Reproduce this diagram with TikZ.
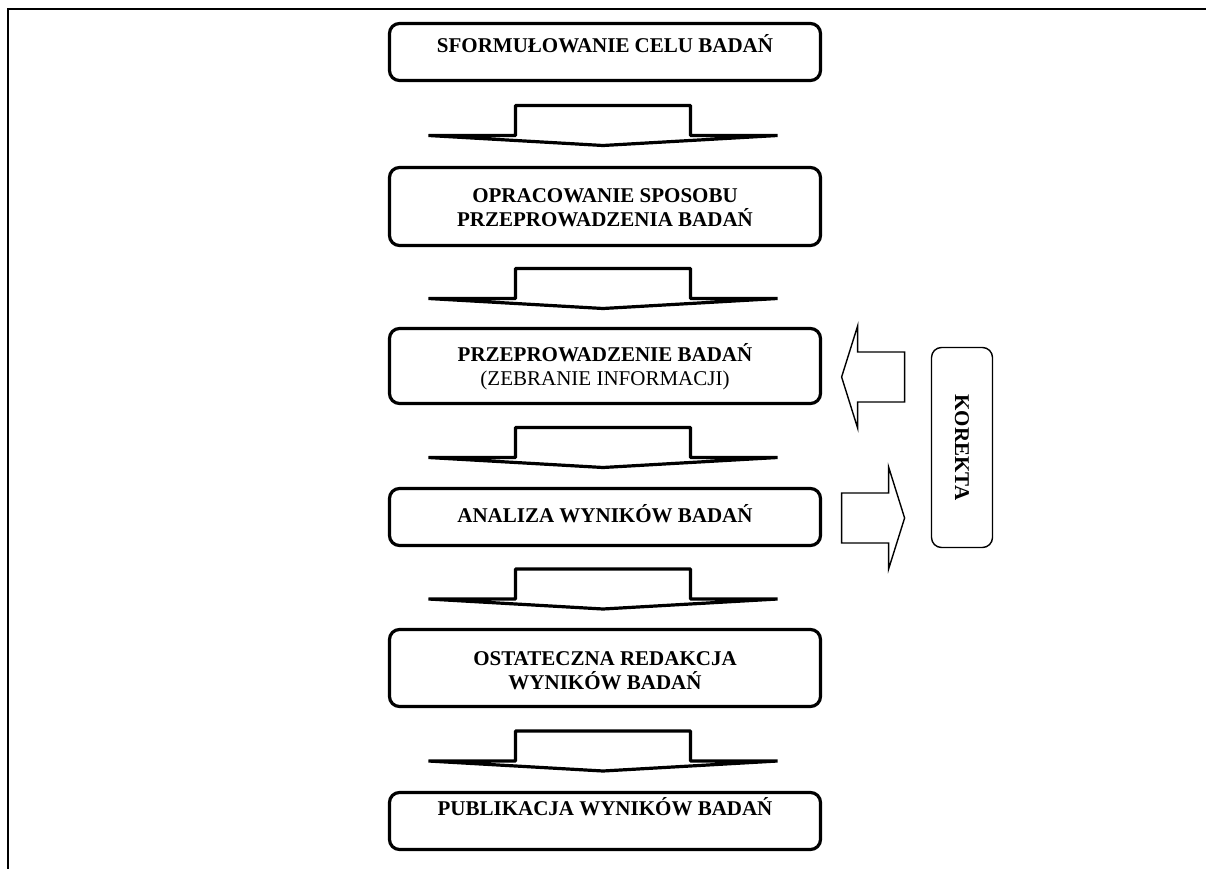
\documentclass[tikz,border=0pt]{standalone}
\usepackage{fontspec}
\setmainfont{Liberation Serif}
\usetikzlibrary{calc}
\tikzset{
  mainbox/.style={draw, line width=3.2pt, rounded corners=10pt, fill=white, minimum width=431pt, inner sep=0pt},
  boxtext/.style={font=\fontsize{21}{24}\selectfont\bfseries, align=center, inner sep=0pt, anchor=base},
  korbox/.style={draw, line width=1.4pt, rounded corners=10pt, rotate=-90, minimum width=200pt, minimum height=61pt, inner sep=0pt, font=\fontsize{21}{24}\selectfont\bfseries},
  flowarrow/.pic={\draw[line width=3.2pt, line join=bevel, fill=white] (-87.5,-18.5) -- (87.5,-18.5) -- (87.5,11.5) -- (174.5,11.5) -- (0,21.5) -- (-174.5,11.5) -- (-87.5,11.5) -- cycle;},
  sidearrow/.pic={\draw[line width=1.4pt, line join=miter, fill=white] (0,0) -- (-16,-51) -- (-16,-25) -- (-63,-25) -- (-63,25) -- (-16,25) -- (-16,51) -- cycle;},
  frameline/.style={line width=2.2pt}
}
\begin{document}
\begin{tikzpicture}[x=1pt,y=-1pt]
\useasboundingbox (0,0) rectangle (1206,869);
\draw[frameline] (8,869) -- (8,9) -- (1206,9);

\node[mainbox, minimum height=57pt] (b1) at (605,52) {};
\node[mainbox, minimum height=78pt] (b2) at (605,206.5) {};
\node[mainbox, minimum height=75pt] (b3) at (605,366) {};
\node[mainbox, minimum height=57pt] (b4) at (605,517) {};
\node[mainbox, minimum height=77pt] (b5) at (605,668) {};
\node[mainbox, minimum height=57pt] (b6) at (605,821) {};

\node[boxtext] (t1) at (605,53) {SFORMUŁOWANIE CELU BADAŃ};
\node[boxtext] (t2) at (605,226) {OPRACOWANIE SPOSOBU\\PRZEPROWADZENIA BADAŃ};
\node[boxtext] (t3) at (605,385) {PRZEPROWADZENIE BADAŃ\\\mdseries (ZEBRANIE INFORMACJI)};
\node[boxtext] (t4) at (605,522) {ANALIZA WYNIKÓW BADAŃ};
\node[boxtext] (t5) at (605,689) {OSTATECZNA REDAKCJA\\WYNIKÓW BADAŃ};
\node[boxtext] (t6) at (605,815) {PUBLIKACJA WYNIKÓW BADAŃ};

\pic at ($(b1.south)!0.5!(b2.north)+(-2,0)$) {flowarrow};
\pic at ($(b2.south)!0.5!(b3.north)+(-2,0)$) {flowarrow};
\pic at ($(b3.south)!0.5!(b4.north)+(-2,0)$) {flowarrow};
\pic at ($(b4.south)!0.5!(b5.north)+(-2,0)$) {flowarrow};
\pic at ($(b5.south)!0.5!(b6.north)+(-2,0)$) {flowarrow};

\node[korbox] (k) at (962,447.5) {KOREKTA};

\pic[xscale=-1] at ($(b3.east)+(19.5,11)$) {sidearrow};
\pic at ($(b4.east)+(82.5,1)$) {sidearrow};
\end{tikzpicture}
\end{document}
